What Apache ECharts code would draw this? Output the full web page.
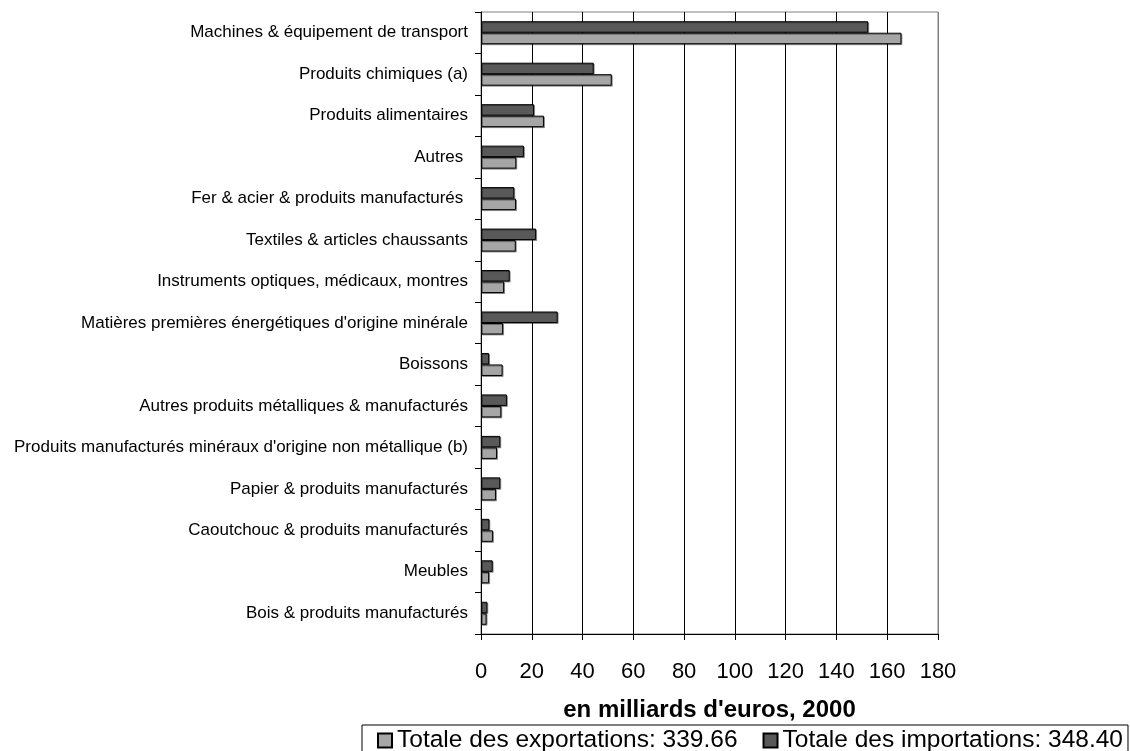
<!DOCTYPE html>
<html>
<head>
<meta charset="utf-8">
<script src="https://cdn.jsdelivr.net/npm/echarts@6/dist/echarts.min.js"></script>
<style>
  html, body { margin: 0; padding: 0; background: #fff; }
  #chart { width: 1130px; height: 751px; }
</style>
</head>
<body>
<div id="chart"></div>
<script>
// Product groups, top to bottom
const categories = [
  'Machines & équipement de transport',
  'Produits chimiques (a)',
  'Produits alimentaires',
  'Autres ',
  'Fer & acier & produits manufacturés ',
  'Textiles & articles chaussants',
  'Instruments optiques, médicaux, montres',
  "Matières premières énergétiques d'origine minérale",
  'Boissons',
  'Autres produits métalliques & manufacturés',
  "Produits manufacturés minéraux d'origine non métallique (b)",
  'Papier & produits manufacturés',
  'Caoutchouc & produits manufacturés',
  'Meubles',
  'Bois & produits manufacturés'
];

// Values in billions of euros, 2000
const exportValues = [165.6, 51.5, 24.8, 13.9, 13.8, 13.7, 9.1, 8.7, 8.5, 8.0, 6.3, 5.9, 4.7, 3.2, 2.2];
const importValues = [152.5, 44.4, 20.9, 16.9, 13.1, 21.7, 11.3, 30.2, 3.2, 10.2, 7.6, 7.6, 3.3, 4.6, 2.5];

const exportTotal = '339.66';
const importTotal = '348.40';

const xTicks = { min: 0, max: 180, interval: 20 };

const exportName = 'Totale des exportations: ' + exportTotal;
const importName = 'Totale des importations: ' + importTotal;

const FONT = "'Liberation Sans', Arial, sans-serif";

// one split line per tick; the last one is the grey right frame
const splitColors = [];
for (let v = xTicks.min; v <= xTicks.max; v += xTicks.interval) {
  splitColors.push(v === xTicks.max ? '#808080' : '#000000');
}

const barStyle = (color) => ({
  color: color,
  borderColor: '#000',
  borderWidth: 1,
  shadowColor: 'rgba(0,0,0,0.35)',
  shadowOffsetX: 1,
  shadowOffsetY: 1,
  shadowBlur: 0
});

const chart = echarts.init(document.getElementById('chart'), null, { renderer: 'canvas' });

chart.setOption({
  animation: false,
  backgroundColor: '#ffffff',
  textStyle: { fontFamily: FONT, color: '#000' },
  grid: {
    left: 481, top: 12, right: 192, bottom: 117,
    containLabel: false,
    show: true,
    borderColor: '#808080',
    borderWidth: 1,
    backgroundColor: 'transparent'
  },
  legend: {
    data: [exportName, importName],
    left: 362,
    top: 725,
    width: 820,
    orient: 'horizontal',
    icon: 'rect',
    itemWidth: 14,
    itemHeight: 14,
    itemGap: 25,
    padding: [3, 5, 12, 15],
    borderColor: '#000',
    borderWidth: 1,
    textStyle: { fontFamily: FONT, fontSize: 24.5, color: '#000' }
  },
  xAxis: {
    type: 'value',
    min: xTicks.min,
    max: xTicks.max,
    interval: xTicks.interval,
    position: 'bottom',
    name: "en milliards d'euros, 2000",
    nameLocation: 'middle',
    nameGap: 64,
    nameTextStyle: { fontFamily: FONT, fontSize: 24, fontWeight: 'bold', color: '#000' },
    axisLine: { show: true, lineStyle: { color: '#000', width: 1 } },
    axisTick: { show: true, inside: false, length: 6, lineStyle: { color: '#000' } },
    axisLabel: { margin: 27, fontSize: 22, fontFamily: FONT, color: '#000' },
    splitLine: { show: true, lineStyle: { color: splitColors, width: 1 } }
  },
  yAxis: {
    type: 'category',
    data: categories,
    inverse: true,
    boundaryGap: true,
    axisLine: { show: true, lineStyle: { color: '#000', width: 1 } },
    axisTick: { show: true, inside: false, length: 6, alignWithLabel: false, lineStyle: { color: '#000' } },
    axisLabel: { margin: 13, fontSize: 17, fontFamily: FONT, color: '#000', interval: 0 },
    splitLine: { show: false }
  },
  series: [
    {
      name: importName,
      type: 'bar',
      data: importValues,
      barWidth: 11.5,
      barGap: '0%',
      itemStyle: barStyle('#595959')
    },
    {
      name: exportName,
      type: 'bar',
      data: exportValues,
      barWidth: 11.5,
      barGap: '0%',
      itemStyle: barStyle('#a6a6a6')
    }
  ]
});
</script>
</body>
</html>
